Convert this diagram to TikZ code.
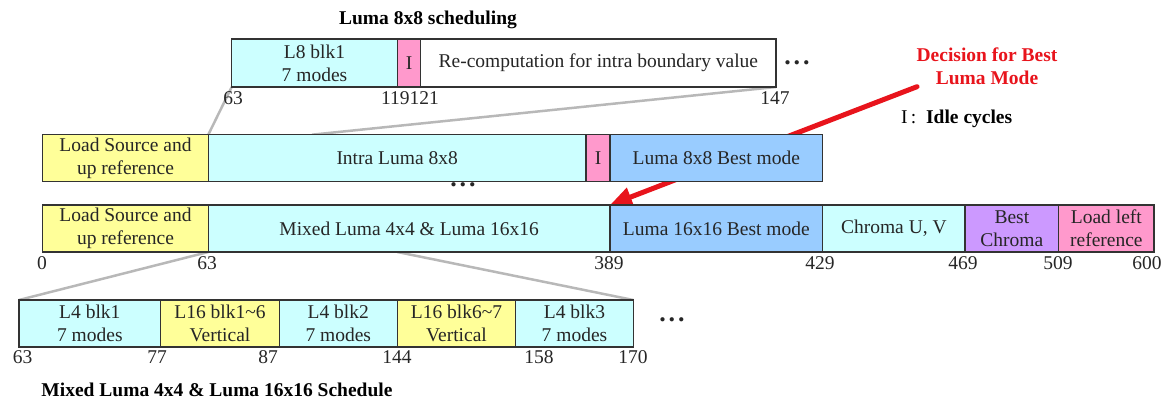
\documentclass[tikz,border=0pt]{standalone}
\usepackage{fontspec}
\setmainfont{Liberation Serif}
\usetikzlibrary{calc,backgrounds,arrows.meta,positioning}
\usepackage{xcolor}
\definecolor{segyellow}{HTML}{FFFF99}
\definecolor{segcyan}{HTML}{CCFFFF}
\definecolor{segpink}{HTML}{FF99CC}
\definecolor{segblue}{HTML}{99CCFF}
\definecolor{segpurple}{HTML}{CC99FF}
\definecolor{zoomgray}{HTML}{B8B8B8}
\definecolor{decred}{HTML}{E8141C}
\newcommand{\segfont}{\fontsize{19.5}{23}\selectfont}
\newcommand{\moredots}{{\fontsize{26}{26}\selectfont\textbf{.\hspace{3pt}.\hspace{3pt}.}}}

\begin{document}
\begin{tikzpicture}[%
    x=1pt,y=-1pt,%
    seg/.style={draw=black!80, line width=1.2pt, text=black!85, align=center,%
      inner sep=0pt, outer sep=0pt, minimum height=47pt, font=\segfont},%
    tick/.style={font=\segfont, text=black!85, inner sep=0pt},%
    caption/.style={font=\segfont\bfseries, inner sep=0pt, align=center},%
    zoomline/.style={draw=zoomgray, line width=2.5pt},%
    decision/.style={draw=decred, line width=5pt, line cap=round,%
      -{Triangle[length=22pt,width=19pt]}}%
  ]
  \useasboundingbox (0,0) rectangle (1173,403);%

  % Luma 8x8 scheduling
  \node[seg, fill=segcyan, minimum width=165.6pt, minimum height=48pt, anchor=north west] (l8blk) at (231.7,39) {L8 blk1\\7 modes};%
  \node[seg, fill=segpink, minimum width=23.4pt, minimum height=48pt, right=0pt of l8blk] (idleA) {I};%
  \node[seg, fill=white, minimum width=355.3pt, minimum height=48pt, right=0pt of idleA] (recomp) {Re-computation for intra boundary value};%

  % Luma 8x8 row
  \node[seg, fill=segyellow, minimum width=165.6pt, anchor=north west] (ldsrcA) at (42.7,134.7) {Load Source and\\up reference};%
  \node[seg, fill=segcyan, minimum width=377.7pt, right=0pt of ldsrcA] (intraA) {Intra Luma 8x8};%
  \node[seg, fill=segpink, minimum width=24pt, right=0pt of intraA] (idleB) {I};%
  \node[seg, fill=segblue, minimum width=212.7pt, right=0pt of idleB] (best8) {Luma 8x8 Best mode};%

  % Main row
  \node[seg, fill=segyellow, minimum width=165.6pt, anchor=north west] (ldsrcB) at (42.7,205) {Load Source and\\up reference};%
  \node[seg, fill=segcyan, minimum width=401.7pt, right=0pt of ldsrcB] (mixed) {Mixed Luma 4x4 \& Luma 16x16};%
  \node[seg, fill=segblue, minimum width=212.7pt, right=0pt of mixed] (best16) {Luma 16x16 Best mode};%
  \node[seg, fill=segcyan, minimum width=142.3pt, right=0pt of best16] (chroma) {Chroma U, V};%
  \node[seg, fill=segpurple, minimum width=93.7pt, right=0pt of chroma] (bestc) {Best\\Chroma};%
  \node[seg, fill=segpink, minimum width=95.3pt, right=0pt of bestc] (ldleft) {Load left\\reference};%

  % Mixed schedule row
  \node[seg, fill=segcyan, minimum width=141.7pt, anchor=north west] (l4a) at (19,300) {L4 blk1\\7 modes};%
  \node[seg, fill=segyellow, minimum width=118.6pt, right=0pt of l4a] (l16a) {L16 blk1\textasciitilde6\\Vertical};%
  \node[seg, fill=segcyan, minimum width=118pt, right=0pt of l16a] (l4b) {L4 blk2\\7 modes};%
  \node[seg, fill=segyellow, minimum width=118.4pt, right=0pt of l4b] (l16b) {L16 blk6\textasciitilde7\\Vertical};%
  \node[seg, fill=segcyan, minimum width=117.6pt, right=0pt of l16b] (l4c) {L4 blk3\\7 modes};%

  % Cycle numbers
  \node[tick] (t8a) at (233,98) {63};%
  \node[tick] (t8b) at (410,98) {119121};%
  \node[tick] (t8c) at (775,98) {147};%
  \foreach \x/\cyc [count=\i] in {42/0,207/63,609/389,820/429,963/469,1058/509,1147/600}
    \node[tick] (tm\i) at (\x,263) {\cyc};%
  \foreach \x/\cyc [count=\i] in {22.5/63,157/77,268/87,397/144,539/158,633/170}
    \node[tick] (tl\i) at (\x,357) {\cyc};%

  % Dots
  \node[tick] (dotsA) at (797,63) {\moredots};%
  \node[tick] (dotsB) at (463,185) {\moredots};%
  \node[tick] (dotsC) at (672,320) {\moredots};%

  % Captions
  \node[caption] (title8) at (428,20) {Luma 8x8 scheduling};%
  \node[caption] (titlemix) at (217,390) {Mixed Luma 4x4 \& Luma 16x16 Schedule};%
  \node[caption, text=decred] (decnote) at (987,66) {Decision for Best\\Luma Mode};%
  \node[tick, text=black, anchor=west] (idlenote) at (901,119) {I\,:\ \ \textbf{Idle cycles}};%

  % Zoom lines and decision arrow, behind the boxes
  \coordinate (z8end) at (312,134.7);%
  \coordinate (decfrom) at (917,86.7);%
  \begin{scope}[on background layer]
    \draw[zoomline] (intraA.north west) -- (l8blk.south west);%
    \draw[zoomline] (z8end) -- (recomp.south east);%
    \draw[zoomline] (mixed.south west) -- (l4a.north west);%
    \draw[zoomline] (mixed.south -| l4b.east) -- (l4c.north east);%
    \draw[decision] (decfrom) -- (best16.north west);%
  \end{scope}
\end{tikzpicture}
\end{document}
